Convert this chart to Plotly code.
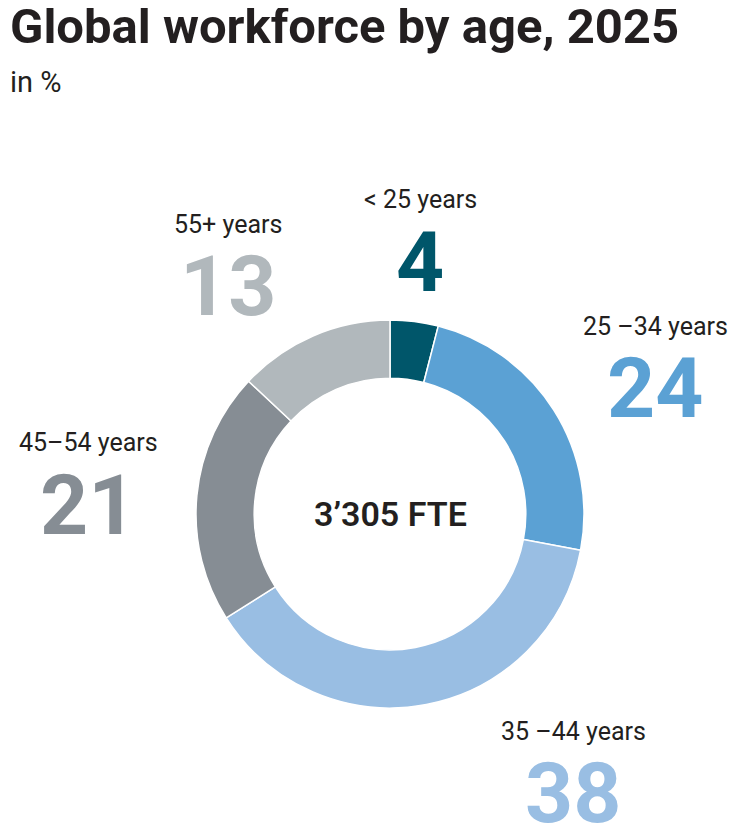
import plotly.graph_objects as go

# data
groups = ["< 25 years", "25 –34 years", "35 –44 years", "45–54 years", "55+ years"]
shares = [4, 24, 38, 21, 13]
share_text = ["4", "24", "38", "21", "13"]
colors = ["#00566A", "#5BA1D4", "#99BEE3", "#868D94", "#B1B8BC"]
total_label = "3’305 FTE"

W, H = 745, 825
OFF = 8  # page body margin of the html output
title_font = "Roboto, Noto Sans, sans-serif"
body_font = "Roboto, Noto Sans, sans-serif"

# label centres in pixels (x, y of group name)
label_pos = [(420, 200), (655, 326), (573, 731), (88, 443), (228, 225)]

def px(x, y):
    return max(x - OFF, 0) / W, 1 - (y - OFF) / H

fig = go.Figure()
fig.add_trace(go.Pie(
    labels=groups, values=shares, sort=False, direction="clockwise",
    rotation=0, hole=0.70,
    marker=dict(colors=colors, line=dict(color="white", width=1.5)),
    textinfo="none", hoverinfo="label+value",
    domain=dict(x=[(196 - OFF) / W, (584 - OFF) / W],
                y=[1 - (708 - OFF) / H, 1 - (320 - OFF) / H]),
    showlegend=False,
))

ann = []
for g, t, c, (lx, ly) in zip(groups, share_text, colors, label_pos):
    x, y = px(lx, ly)
    ann.append(dict(text=g, x=x, y=y, xref="paper", yref="paper",
                    showarrow=False, xanchor="center", yanchor="middle",
                    font=dict(family=body_font, size=25, color="#231F20")))
    x2, y2 = px(lx, ly + 62)
    ann.append(dict(text=t, x=x2, y=y2, xref="paper", yref="paper",
                    showarrow=False, xanchor="center", yanchor="middle",
                    font=dict(family=body_font, size=84, color=c, weight="bold")))

cx, cy = px(390, 514)
ann.append(dict(text=total_label, x=cx, y=cy, xref="paper", yref="paper",
                showarrow=False, xanchor="center", yanchor="middle",
                font=dict(family=body_font, size=34, color="#231F20", weight=600)))

tx, ty = px(0, 26)
ann.append(dict(text="<b>Global workforce by age, 2025</b>", x=tx, y=ty,
                xref="paper", yref="paper", showarrow=False,
                xanchor="left", yanchor="middle",
                font=dict(family=title_font, size=49, color="#231F20")))
sx, sy = px(0, 82)
ann.append(dict(text="in %", x=sx, y=sy, xref="paper", yref="paper",
                showarrow=False, xanchor="left", yanchor="middle",
                font=dict(family=title_font, size=29, color="#231F20")))

fig.update_layout(
    width=W, height=H,
    margin=dict(l=0, r=0, t=0, b=0),
    paper_bgcolor="white", plot_bgcolor="white",
    annotations=ann,
)

fig.write_html("out.html")
